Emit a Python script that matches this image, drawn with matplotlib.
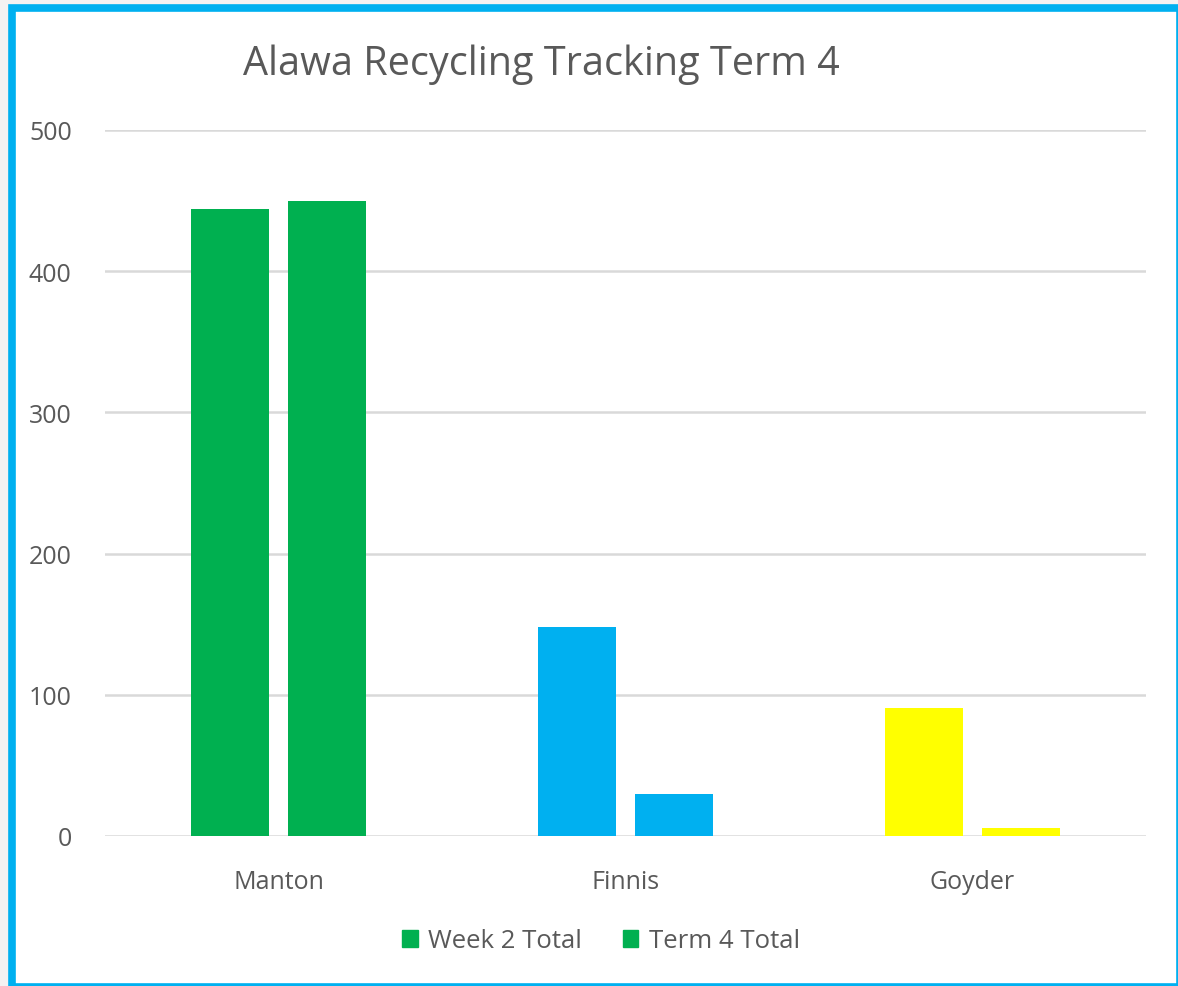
import matplotlib
matplotlib.use("Agg")
import matplotlib.pyplot as plt
from matplotlib.patches import Rectangle, Patch
import numpy as np

# data
schools = ["Manton", "Finnis", "Goyder"]
week2_total = [444, 148, 91]
term4_total = [450, 30, 6]
school_colors = ["#00b050", "#00b0f0", "#ffff00"]
series_names = ["Week 2 Total", "Term 4 Total"]
y_ticks = [0, 100, 200, 300, 400, 500]

W, H = 1178, 987
fig = plt.figure(figsize=(W / 100, H / 100), dpi=100)
fig.patch.set_facecolor("#f4f2f2")

# blue frame round the chart area (pixel coords -> figure fraction)
def px(x, y):
    return x / W, 1 - y / H

x0, y1 = px(12, 8.5)
x1, y0 = px(1179.5, 987.5)
fig.patches.append(Rectangle((x0, y0), x1 - x0, y1 - y0, transform=fig.transFigure,
                             facecolor="white", edgecolor="#00b0f0", linewidth=5.5, zorder=-1))

ax = fig.add_axes([105 / W, 1 - 837 / H, (1146 - 105) / W, (837 - 131) / H])
ax.set_zorder(2)
ax.set_facecolor("none")

x = np.arange(len(schools))
width = 0.225
offset = 0.141
ax.bar(x - offset, week2_total, width, color=school_colors, zorder=3)
ax.bar(x + offset, term4_total, width, color=school_colors, zorder=3)

ax.set_xlim(-0.5, 2.5)
ax.set_ylim(0, 500)
ax.set_yticks(y_ticks)
ax.set_xticks(x)
ax.set_xticklabels(schools)
ax.grid(axis="y", color="#d9d9d9", linewidth=1.8, zorder=0)
for s in ax.spines.values():
    s.set_visible(False)
ax.tick_params(length=0, labelsize=18, labelcolor="#595959")
ax.tick_params(axis="y", pad=24)
ax.tick_params(axis="x", pad=24)
for lab in ax.get_xticklabels() + ax.get_yticklabels():
    lab.set_fontfamily("Open Sans")

fig.text(541 / W, 1 - 65 / H, "Alawa Recycling Tracking Term 4", ha="center", va="center",
         fontsize=28.5, color="#595959", family="Open Sans")

handles = [Patch(color="#00b050", label=n) for n in series_names]
fig.legend(handles=handles, loc="center", bbox_to_anchor=(601 / W, 1 - 942 / H), ncol=2,
           frameon=False, prop={"family": "Open Sans", "size": 18.5}, labelcolor="#595959",
           handlelength=0.6, handleheight=0.6, handletextpad=0.4, columnspacing=1.6)

fig.savefig("out.png", dpi=100, facecolor=fig.get_facecolor())
